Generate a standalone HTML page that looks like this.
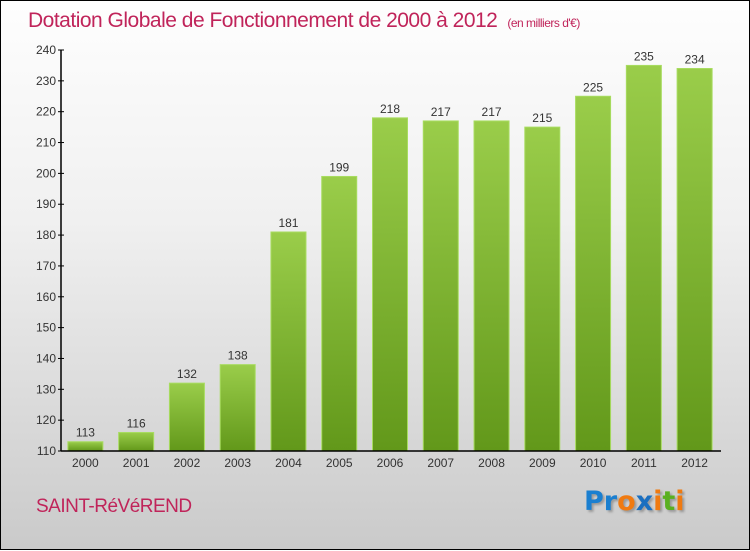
<!DOCTYPE html>
<html><head><meta charset="utf-8"><style>
body{margin:0;width:750px;height:550px;overflow:hidden}
#wrap{position:relative;width:748px;height:548px;border:1px solid #000;background:linear-gradient(#fefefe,#f0f0f0 40%,#cacaca);font-family:"Liberation Sans",sans-serif}
#title{position:absolute;left:27px;top:8px;font-size:21px;color:#c0245a;letter-spacing:-0.5px;white-space:nowrap}
#title span{font-size:12px;margin-left:10px}
#city{position:absolute;left:35px;top:495px;font-size:19px;color:#c0245a;letter-spacing:-0.5px}
#logo{position:absolute;left:583px;top:485px;font-size:27px;font-weight:bold;font-family:"DejaVu Sans",sans-serif;text-shadow:2px 2px 2px #999}
svg{position:absolute;left:0;top:0}
</style></head><body>
<div id="wrap">
<div id="title">Dotation Globale de Fonctionnement de 2000 à 2012<span>(en milliers d'€)</span></div>
<svg id="chart" width="750" height="550">
<defs><linearGradient id="g" x1="0" y1="0" x2="0" y2="1"><stop offset="0" stop-color="#9acd4a"/><stop offset="1" stop-color="#62981a"/></linearGradient></defs>
</svg>
<div id="city">SAINT-RéVéREND</div>
<div id="logo"><span style="color:#1a7fd0">P</span><span style="color:#1a7fd0">r</span><span style="color:#f07a10">o</span><span style="color:#1a6fc0">x</span><span style="color:#f07a10">i</span><span style="color:#5ab020">t</span><span style="color:#f07a10">i</span></div>
</div>
<script>
const categories=["2000","2001","2002","2003","2004","2005","2006","2007","2008","2009","2010","2011","2012"];
const values=[113,116,132,138,181,199,218,217,217,215,225,235,234];
const yTicks=[110,120,130,140,150,160,170,180,190,200,210,220,230,240];
const svg=document.getElementById('chart');const NS='http://www.w3.org/2000/svg';
const y0=450,y1=49,vmin=110,vmax=240,xl=60,xr=720;
const y=v=>y0-(v-vmin)/(vmax-vmin)*(y0-y1);
const step=(xr-xl)/categories.length;
const xc=i=>xl+step*(i+0.5)-1;
function mk(t,a){const e=document.createElementNS(NS,t);for(const k in a)e.setAttribute(k,a[k]);svg.appendChild(e);return e;}
yTicks.forEach(v=>{
 const l=mk('line',{x1:xl-3,x2:xl+3,y1:y(v),y2:y(v),stroke:'#000'});
 
 
 const t=mk('text',{x:xl-5,y:y(v)+4,'text-anchor':'end','font-size':12,fill:'#333','font-family':'Liberation Sans'});
 t.textContent=v;
 
 
});
values.forEach((v,i)=>{
 const w=35,x=xc(i)-w/2;
 const r=mk('rect',{x:x,y:y(v),width:w,height:y0-y(v),fill:'url(#g)',stroke:'#a8dc60','stroke-width':1});
 
 
 const t=mk('text',{x:xc(i),y:y(v)-5,'text-anchor':'middle','font-size':12,fill:'#333','font-family':'Liberation Sans'});
 t.textContent=v;
 
 
 const c=mk('text',{x:xc(i),y:y0+16,'text-anchor':'middle','font-size':12,fill:'#333','font-family':'Liberation Sans'});
 c.textContent=categories[i];
 
 
});
const ax=mk('line',{x1:xl,x2:xl,y1:y1,y2:y0,stroke:'#000','stroke-width':1.5});


const bx=mk('line',{x1:xl,x2:xr,y1:y0,y2:y0,stroke:'#000','stroke-width':1.5});


</script>
</body></html>
